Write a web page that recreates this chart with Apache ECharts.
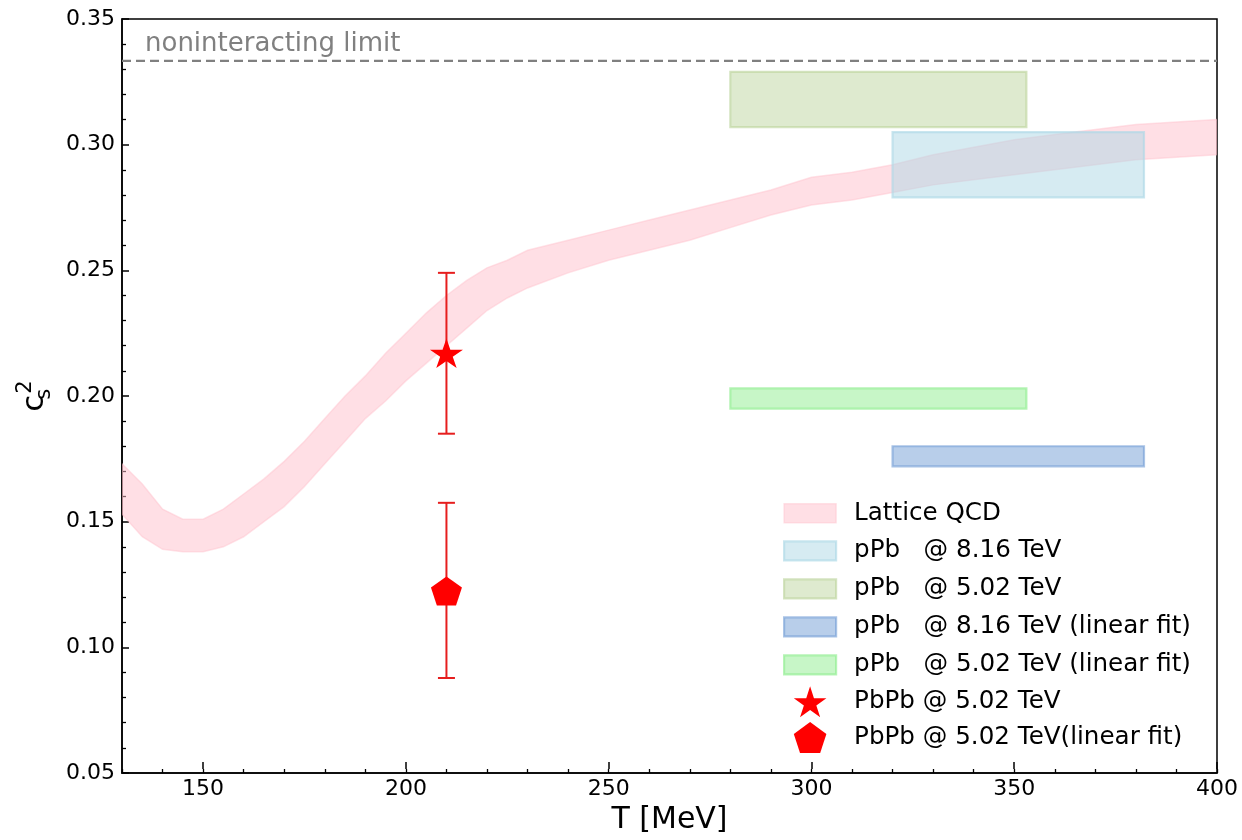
<!DOCTYPE html>
<html><head><meta charset="utf-8">
<script src="https://cdn.jsdelivr.net/npm/echarts@6/dist/echarts.min.js"></script>
<style>html,body{margin:0;padding:0;background:#fff}#c{width:1242px;height:840px}</style>
</head><body><div id="c"></div>
<script>
// ---- data ----
const latticeT = [130,135,140,145,150,155,160,165,170,175,180,185,190,195,200,205,210,215,220,225,230,240,250,260,270,280,290,300,310,320,330,340,350,360,370,380,390,400];
const latticeUpper = [0.173,0.165,0.155,0.151,0.151,0.155,0.161,0.167,0.174,0.182,0.191,0.200,0.208,0.217,0.225,0.233,0.240,0.246,0.251,0.254,0.258,0.262,0.266,0.270,0.274,0.278,0.282,0.287,0.289,0.292,0.296,0.299,0.302,0.304,0.306,0.308,0.309,0.310];
const latticeLower = [0.153,0.144,0.139,0.138,0.138,0.140,0.144,0.150,0.156,0.164,0.173,0.182,0.191,0.198,0.206,0.213,0.220,0.227,0.234,0.239,0.243,0.249,0.254,0.258,0.262,0.267,0.272,0.276,0.278,0.281,0.284,0.286,0.288,0.290,0.292,0.294,0.295,0.296];
const xTickLabels = [150,200,250,300,350,400];
const boxNames = ['pPb   @ 8.16 TeV','pPb   @ 5.02 TeV','pPb   @ 8.16 TeV (linear fit)','pPb   @ 5.02 TeV (linear fit)'];
const boxT = [[320,382],[280,353],[320,382],[280,353]];
const boxCs2 = [[0.279,0.305],[0.307,0.329],[0.172,0.180],[0.195,0.203]];
const pbpbNames = ['PbPb @ 5.02 TeV','PbPb @ 5.02 TeV(linear fit)'];
const pbpbT = [210,210];
const pbpbCs2 = [0.217,0.1224];
const pbpbLow = [0.185,0.0878];
const pbpbHigh = [0.249,0.1575];
const limitCs2 = 1/3;
const limitLabel = 'noninteracting limit';

// ---- styles ----
const FONT = 'DejaVu Sans';
const boxFill = ['rgba(173,216,230,0.5)','rgba(190,214,160,0.5)','rgba(113,157,213,0.5)','rgba(144,238,144,0.5)'];
const boxEdge = ['rgba(173,216,230,0.65)','rgba(190,214,160,0.65)','rgba(113,157,213,0.6)','rgba(144,238,144,0.65)'];
const bandFill = 'rgba(255,192,203,0.5)';
const bandEdge = 'rgba(255,192,203,0.45)';
const starPath = 'path://M100 0L122.45 69.1L195.1 69.1L136.3 111.8L158.8 180.9L100 138.2L41.2 180.9L63.7 111.8L4.9 69.1L77.55 69.1Z';
const pentPath = 'path://M100 0L195.1 69.1L158.8 180.9L41.2 180.9L4.9 69.1Z';
// legend patch: 52x19 rectangle inside a 52x31 icon box
const patchPath = 'path://M0 0M52 31M0 6L52 6L52 25L0 25Z';

function renderBand(params, api){
  if (params.dataIndex !== 0) return null;
  const pts = [];
  for (let i = 0; i < latticeT.length; i++) pts.push(api.coord([latticeT[i], latticeUpper[i]]));
  for (let i = latticeT.length - 1; i >= 0; i--) pts.push(api.coord([latticeT[i], latticeLower[i]]));
  return {type:'polygon', shape:{points:pts}, style:{fill:bandFill, stroke:bandEdge, lineWidth:1.5}};
}
function makeRender(k){
  return function(params, api){
    const p0 = api.coord([api.value(0), api.value(3)]);
    const p1 = api.coord([api.value(1), api.value(2)]);
    return {type:'rect', shape:{x:p0[0], y:p0[1], width:p1[0]-p0[0], height:p1[1]-p0[1]},
      style:{fill:boxFill[k], stroke:boxEdge[k], lineWidth:2.2}};
  };
}
function renderErr(params, api){
  const x = api.value(0);
  const a = api.coord([x, api.value(1)]), b = api.coord([x, api.value(2)]);
  const cap = 8.5, st = {stroke:'#e61e1e', lineWidth:2};
  return {type:'group', children:[
    {type:'line', shape:{x1:a[0], y1:a[1], x2:b[0], y2:b[1]}, style:st},
    {type:'line', shape:{x1:a[0]-cap, y1:a[1], x2:a[0]+cap, y2:a[1]}, style:st},
    {type:'line', shape:{x1:b[0]-cap, y1:b[1], x2:b[0]+cap, y2:b[1]}, style:st}
  ]};
}
function renderLimitText(params, api){
  const p = api.coord([api.value(0), api.value(1)]);
  return {type:'text', x:p[0]+23, y:p[1]-17,
    style:{text:limitLabel, fill:'#808080', fontSize:26, fontFamily:FONT, verticalAlign:'middle', align:'left'}};
}

const series = [];
series.push({type:'custom', name:'Lattice QCD', renderItem:renderBand, clip:true, z:1,
  data: latticeT.map((t,i)=>[t, latticeLower[i], latticeUpper[i]])});
for (let k = 0; k < 4; k++) {
  series.push({type:'custom', name:boxNames[k], renderItem:makeRender(k), z:2,
    encode:{x:[0,1], y:[2,3]},
    data:[[boxT[k][0], boxT[k][1], boxCs2[k][0], boxCs2[k][1]]]});
}
series.push({type:'line', name:'limit', data:[[130, limitCs2],[400, limitCs2]], symbol:'none', silent:true, z:3,
  lineStyle:{color:'#808080', width:2.2, type:[9,5]}});
series.push({type:'custom', name:'limitText', renderItem:renderLimitText, data:[[130, limitCs2]], z:3});
series.push({type:'custom', name:'errbars', renderItem:renderErr, z:4,
  data: pbpbT.map((t,i)=>[t, pbpbLow[i], pbpbHigh[i]])});
series.push({type:'scatter', name:pbpbNames[0], symbol:starPath, symbolSize:[33,31], symbolKeepAspect:true, z:5,
  itemStyle:{color:'#ff0000', opacity:1}, data:[[pbpbT[0], pbpbCs2[0]]]});
series.push({type:'scatter', name:pbpbNames[1], symbol:pentPath, symbolSize:[31,29], z:5,
  itemStyle:{color:'#ff0000', opacity:1}, data:[[pbpbT[1], pbpbCs2[1]]]});

const legendData = [{name:'Lattice QCD', icon:patchPath, itemStyle:{color:bandFill, borderColor:bandEdge, borderWidth:1.5}}];
for (let k = 0; k < 4; k++) legendData.push({name:boxNames[k], icon:patchPath, itemStyle:{color:boxFill[k], borderColor:boxEdge[k], borderWidth:2.2}});
legendData.push({name:pbpbNames[0], icon:starPath, itemStyle:{color:'#ff0000'}});
legendData.push({name:pbpbNames[1], icon:pentPath, itemStyle:{color:'#ff0000'}});

const chart = echarts.init(document.getElementById('c'), null, {renderer:'canvas'});
chart.setOption({
  animation:false,
  backgroundColor:'#fff',
  textStyle:{fontFamily:FONT},
  grid:[
    {left:122, right:25, top:19, bottom:67, show:true, borderColor:'#000', borderWidth:1.5, containLabel:false},
    {left:122, right:25, top:19, bottom:67, show:false, containLabel:false}
  ],
  legend:{
    orient:'vertical', left:783, top:497, padding:0, itemWidth:52, itemHeight:31, itemGap:4.8,
    selectedMode:false, data:legendData,
    textStyle:{fontSize:24.6, color:'#000', fontFamily:FONT, lineHeight:24, padding:[0,0,0,13]}
  },
  xAxis:[
    {type:'value', gridIndex:0, min:130, max:400, interval:10,
     axisLine:{onZero:false, lineStyle:{color:'#000', width:1.5}},
     axisTick:{inside:true, length:4, lineStyle:{color:'#000', width:1.3}},
     axisLabel:{show:false}, splitLine:{show:false}},
    {type:'value', gridIndex:1, min:130, max:400,
     axisLine:{show:false},
     axisTick:{inside:true, length:7, customValues:xTickLabels, lineStyle:{color:'#000', width:1.5}},
     axisLabel:{customValues:xTickLabels, fontSize:22, color:'#000', fontFamily:FONT, margin:9},
     splitLine:{show:false},
     name:'T [MeV]', nameLocation:'middle', nameGap:35,
     nameTextStyle:{fontSize:30, color:'#000', fontFamily:FONT}}
  ],
  yAxis:[
    {type:'value', gridIndex:0, min:0.05, max:0.35, interval:0.05,
     axisLine:{onZero:false, lineStyle:{color:'#000', width:1.5}},
     axisTick:{inside:true, length:7, lineStyle:{color:'#000', width:1.5}},
     minorTick:{show:true, splitNumber:5, length:4, lineStyle:{color:'#000', width:1.3}},
     axisLabel:{fontSize:22, color:'#000', fontFamily:FONT, margin:7, formatter:v=>v.toFixed(2)},
     splitLine:{show:false},
     name:'{c|c}{s|s}{p|2}', nameLocation:'middle', nameRotate:90, nameGap:66,
     nameTextStyle:{fontFamily:FONT, color:'#000',
       rich:{c:{fontSize:31, lineHeight:40, fontFamily:FONT, color:'#000'},
             s:{fontSize:21, lineHeight:21, width:1, overflow:'none', verticalAlign:'bottom', fontFamily:FONT, color:'#000'},
             p:{fontSize:21, lineHeight:21, verticalAlign:'top', fontFamily:FONT, color:'#000'}}}},
    {type:'value', gridIndex:1, min:0.05, max:0.35, show:false}
  ],
  series: series
});
</script></body></html>
